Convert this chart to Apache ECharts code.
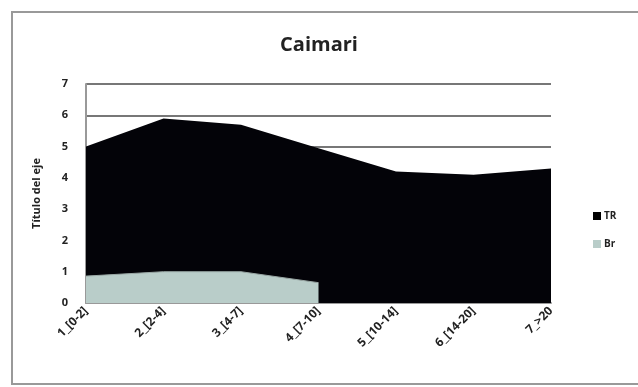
<!DOCTYPE html>
<html>
<head>
<meta charset="utf-8">
<script src="https://cdn.jsdelivr.net/npm/echarts@6/dist/echarts.min.js"></script>
<style>
  html, body { margin: 0; padding: 0; background: #fff; }
  #main { width: 638px; height: 387px; }
</style>
</head>
<body>
<div id="main"></div>
<script>
    "use strict";

    var categories = ["1_[0-2]", "2_[2-4]", "3_[4-7]", "4_[7-10]", "5_[10-14]", "6_[14-20]", "7_>20"];
    var trValues = [5.0, 5.9, 5.7, 4.95, 4.2, 4.1, 4.3];
    var brValues = [0.86, 1.0, 1.0, 0.65, null, null, null];
    var yTicks = [0, 1, 2, 3, 4, 5, 6, 7];

    var myChart = echarts.init(document.getElementById('main'));

    var option = {
        animation: false,
        title: {
            text: 'Caimari',
            left: 'center',
            top: 30,
            textStyle: { fontFamily: 'Open Sans', fontSize: 20, fontWeight: 'bold', color: '#222' }
        },
        legend: {
            orient: 'vertical',
            left: 588,
            top: 206,
            itemWidth: 8,
            itemHeight: 8,
            itemGap: 18,
            icon: 'rect',
            data: ['TR', 'Br'],
            textStyle: { fontFamily: 'Open Sans', fontSize: 10, fontWeight: 'bold', color: '#222', padding: [0, 0, 0, -2] }
        },
        graphic: [{
            type: 'rect',
            shape: { x: 12, y: 12, width: 640, height: 372 },
            style: { fill: 'none', stroke: '#999', lineWidth: 2 }
        }],
        grid: { left: 86, right: 87, top: 84, bottom: 84 },
        xAxis: {
            type: 'category',
            data: categories,
            boundaryGap: false,
            axisLine: { lineStyle: { color: '#999', width: 2 } },
            axisTick: { show: false },
            axisLabel: {
                rotate: 45,
                margin: 6,
                fontFamily: 'Open Sans',
                fontSize: 12,
                fontWeight: 'bold',
                color: '#222'
            }
        },
        yAxis: {
            type: 'value',
            min: yTicks[0],
            max: yTicks[yTicks.length - 1],
            interval: 1,
            name: 'Título del eje',
            nameLocation: 'middle',
            nameGap: 44,
            nameTextStyle: { fontFamily: 'Open Sans', fontSize: 11, fontWeight: 'bold', color: '#222' },
            axisLine: { show: true, lineStyle: { color: '#999', width: 2 } },
            axisTick: { show: false },
            splitLine: { lineStyle: { color: '#777', width: 2 } },
            axisLabel: { fontFamily: 'Open Sans', fontSize: 11, fontWeight: 'bold', color: '#222', margin: 18 }
        },
        series: [{
            name: 'TR',
            type: 'line',
            data: trValues,
            symbol: 'none',
            itemStyle: { color: '#000' },
            lineStyle: { width: 0 },
            areaStyle: { color: '#030308', opacity: 1 }
        }, {
            name: 'Br',
            type: 'line',
            data: brValues,
            symbol: 'none',
            connectNulls: false,
            itemStyle: { color: '#b9cdc9' },
            lineStyle: { width: 1, color: '#9aa8a5' },
            areaStyle: { color: '#b9cdc9', opacity: 1 }
        }]
    };

    myChart.setOption(option);
    window.myChart = myChart;
</script>
</body>
</html>
